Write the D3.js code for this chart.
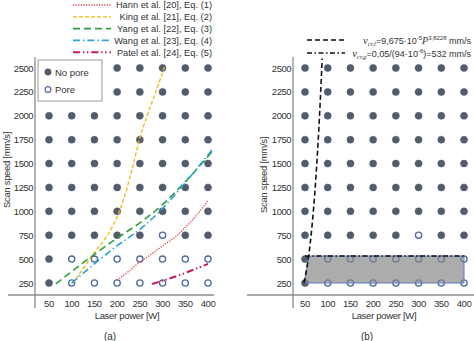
<!DOCTYPE html>
<html>
<head>
<meta charset="utf-8">
<script src="https://cdn.jsdelivr.net/npm/d3@7"></script>
<style>
  body { margin: 0; background: #fff; }
  svg { display: block; font-family: "Liberation Sans", Arial, sans-serif; }
</style>
</head>
<body>
<div id="chart"></div>
<script>
// process window grid
const POWERS = [50, 100, 150, 200, 250, 300, 350, 400];
const SPEEDS = [250, 500, 750, 1000, 1250, 1500, 1750, 2000, 2250, 2500];
// [power, speed] combinations where pores were found
const PORES = [
    [100, 250], [150, 250], [200, 250], [250, 250], [300, 250], [350, 250], [400, 250],
    [100, 500], [150, 500], [200, 500], [250, 500], [300, 500], [350, 500], [400, 500],
    [300, 750]
];

// literature thresholds [power, speed]
const HANN = [[200, 280], [225, 370], [250, 470], [275, 550], [300, 640], [325, 720], [350, 830], [375, 960], [400, 1110]];
const KING = [[102, 240], [125, 400], [150, 570], [180, 760], [205, 1000], [222, 1250], [236, 1500], [249, 1750], [266, 2000], [285, 2250], [305, 2520]];
const YANG = [[65, 240], [100, 370], [150, 550], [200, 720], [250, 880], [300, 1070], [350, 1310], [410, 1630]];
const WANG = [[100, 250], [150, 450], [200, 640], [250, 810], [300, 1030], [350, 1300], [410, 1650]];
const PATEL = [[277, 240], [317, 300], [355, 365], [400, 450]];

const SERIES_NAMES = ["Hann et al. [20], Eq. (1)", "King et al. [21], Eq. (2)", "Yang et al. [22], Eq. (3)", "Wang et al. [23], Eq. (4)", "Patel et al. [24], Eq. (5)"];

// critical speeds (panel b): v_cr,l = 9,675e-5 * P^3,8228 and v_cr,g = 532
const VCRL_MANT = 9.675;
const VCRL_POW10 = -5;
const VCRL_EXP = 3.8228;
const VCRG = 532;

const width = 474, height = 341;
const svg = d3.select("#chart").append("svg")
    .attr("width", width)
    .attr("height", height);

const yScale = d3.scaleLinear().domain([250, 2500]).range([283, 68]);

const styles = [
    { color: "#e5353f", dash: "1.2,1.4", w: 1.3 },
    { color: "#f5b60f", dash: "4,2", w: 1.3 },
    { color: "#2f9e3f", dash: "7,4", w: 1.6 },
    { color: "#27a3d6", dash: "7,3,1.4,3", w: 1.6 },
    { color: "#c2185b", dash: "7,3,1.4,2.5,1.4,3", w: 2 }
];

function drawAxes(g, x, axisX, xLineStart, xLineEnd, cx) {
    g.append("line")
        .attr("x1", axisX).attr("x2", axisX)
        .attr("y1", 57).attr("y2", 308)
        .attr("stroke", "#8c8c8c").attr("stroke-width", 1.3);
    g.append("line")
        .attr("x1", xLineStart).attr("x2", xLineEnd)
        .attr("y1", 295).attr("y2", 295)
        .attr("stroke", "#8c8c8c").attr("stroke-width", 1.3);

    SPEEDS.forEach(s =>
        g.append("text")
            .attr("x", axisX - 2)
            .attr("y", yScale(s) + 3.5)
            .attr("text-anchor", "end")
            .attr("font-size", 9.5)
            .attr("letter-spacing", -0.5)
            .attr("fill", "#333")
            .text(s)
    );
    POWERS.forEach(p =>
        g.append("text")
            .attr("x", x(p))
            .attr("y", 307)
            .attr("text-anchor", "middle")
            .attr("font-size", 9.5)
            .attr("letter-spacing", -0.4)
            .attr("fill", "#333")
            .text(p)
    );

    g.append("text")
        .attr("x", cx)
        .attr("y", 319)
        .attr("text-anchor", "middle")
        .attr("font-size", 9.5)
        .attr("letter-spacing", -0.3)
        .attr("fill", "#333")
        .text("Laser power [W]");
}

function yLabel(g, x, y) {
    g.append("text")
        .attr("transform", "translate(" + x + "," + y + ") rotate(-90)")
        .attr("text-anchor", "middle")
        .attr("font-size", 9.5)
        .attr("letter-spacing", -0.3)
        .attr("fill", "#333")
        .text("Scan speed [mm/s]");
}

function drawPoints(g, x) {
    const isPore = (p, s) => PORES.some(d => d[0] == p && d[1] == s);
    SPEEDS.forEach(s => {
        POWERS.forEach(p => {
            const pore = isPore(p, s);
            g.append("circle")
                .attr("cx", x(p))
                .attr("cy", yScale(s))
                .attr("r", pore ? 3.1 : 3.5)
                .attr("fill", pore ? "#fff" : "#535b6d")
                .attr("stroke", pore ? "#4d6aa5" : "#535b6d")
                .attr("stroke-width", pore ? 1.3 : 0.6);
        });
    });
}

// ---- panel (a) ----
const xA = d3.scaleLinear().domain([50, 400]).range([49, 208]);
const ga = svg.append("g");
drawAxes(ga, xA, 35, 8, 214, 127);
yLabel(ga, 10, 170);
drawPoints(ga, xA);

const lineA = d3.line()
    .x(d => xA(d[0]))
    .y(d => yScale(d[1]))
    .curve(d3.curveMonotoneX);

[HANN, KING, YANG, WANG, PATEL].forEach((data, i) => {
    ga.append("path")
        .datum(data)
        .attr("d", lineA)
        .attr("fill", "none")
        .attr("stroke", styles[i].color)
        .attr("stroke-width", styles[i].w)
        .attr("stroke-dasharray", styles[i].dash);
});

// legend of the literature curves
SERIES_NAMES.forEach((name, i) => {
    const ly = 5 + i * 11.8;
    ga.append("line")
        .attr("x1", 73).attr("x2", 111)
        .attr("y1", ly).attr("y2", ly)
        .attr("stroke", styles[i].color)
        .attr("stroke-width", styles[i].w)
        .attr("stroke-dasharray", styles[i].dash);
    ga.append("text")
        .attr("x", 212)
        .attr("y", ly + 3.3)
        .attr("text-anchor", "end")
        .attr("font-size", 9.3)
        .attr("fill", "#333")
        .text(name);
});

// pore / no pore box
ga.append("rect")
    .attr("x", 38).attr("y", 60)
    .attr("width", 64).attr("height", 41)
    .attr("fill", "#fff")
    .attr("stroke", "#9a9a9a")
    .attr("stroke-width", 1);
ga.append("circle").attr("cx", 48).attr("cy", 72).attr("r", 3.2)
    .attr("fill", "#535b6d").attr("stroke", "#535b6d").attr("stroke-width", 0.6);
ga.append("circle").attr("cx", 48).attr("cy", 89.5).attr("r", 2.9)
    .attr("fill", "#fff").attr("stroke", "#4d6aa5").attr("stroke-width", 1.2);
ga.append("text").attr("x", 55).attr("y", 75.5).attr("font-size", 9.5).attr("fill", "#333").text("No pore");
ga.append("text").attr("x", 55).attr("y", 93).attr("font-size", 9.5).attr("fill", "#333").text("Pore");

ga.append("text")
    .attr("x", 110).attr("y", 340)
    .attr("text-anchor", "middle")
    .attr("font-size", 10)
    .attr("fill", "#333")
    .text("(a)");

// ---- panel (b) ----
const xB = d3.scaleLinear().domain([50, 400]).range([305, 464]);
const gb = svg.append("g");
drawAxes(gb, xB, 293, 247, 474, 384);
yLabel(gb, 267, 175);
drawPoints(gb, xB);

// v_cr,l solved for P at a given speed
const vcrlCoef = VCRL_MANT * Math.pow(10, VCRL_POW10);
const powerAt = v => Math.pow(v / vcrlCoef, 1 / VCRL_EXP);
const curveSpeeds = d3.range(250, 2601, 25);
const curveB = curveSpeeds.map(v => [powerAt(v), v]);

const lineB = d3.line()
    .x(d => xB(d[0]))
    .y(d => yScale(d[1]));

// shaded region between the two critical speeds
const region = curveB.filter(d => d[1] <= VCRG)
    .concat([[powerAt(VCRG), VCRG], [400, VCRG], [400, 250]]);
gb.append("path")
    .datum(region)
    .attr("d", lineB.curve(d3.curveLinearClosed))
    .attr("fill", "#858585")
    .attr("fill-opacity", 0.68)
    .attr("stroke", "#5d7cbf")
    .attr("stroke-width", 1);
lineB.curve(d3.curveLinear);

gb.append("path")
    .datum(curveB)
    .attr("d", lineB)
    .attr("fill", "none")
    .attr("stroke", "#111")
    .attr("stroke-width", 1.6)
    .attr("stroke-dasharray", "5,3");

gb.append("path")
    .datum([[50, VCRG], [400, VCRG]])
    .attr("d", lineB)
    .attr("fill", "none")
    .attr("stroke", "#111")
    .attr("stroke-width", 1.6)
    .attr("stroke-dasharray", "5,2.5,1.5,2.5");

// legend with the two formulas
const legB = [
    { y: 40, dash: "5,3" },
    { y: 53, dash: "5,2.5,1.5,2.5" }
];
legB.forEach(l => {
    gb.append("line")
        .attr("x1", 307).attr("x2", 345)
        .attr("y1", l.y).attr("y2", l.y)
        .attr("stroke", "#111")
        .attr("stroke-width", 1.6)
        .attr("stroke-dasharray", l.dash);
});

const fmt = n => String(n).replace(".", ",");
const t1 = gb.append("text")
    .attr("x", 471).attr("y", 43.5)
    .attr("text-anchor", "end")
    .attr("font-size", 9)
    .attr("fill", "#333");
t1.append("tspan").attr("font-family", "Liberation Serif").attr("font-style", "italic").attr("font-size", 10.5).text("v");
t1.append("tspan").attr("font-family", "Liberation Serif").attr("font-style", "italic").attr("font-size", 6.5).attr("dy", 2).text("cr,l");
t1.append("tspan").attr("dy", -2).text("=" + fmt(VCRL_MANT) + "·10");
t1.append("tspan").attr("font-size", 6).attr("dy", -3.5).text(VCRL_POW10);
t1.append("tspan").attr("font-family", "Liberation Serif").attr("font-style", "italic").attr("font-size", 10).attr("dy", 3.5).text("P");
t1.append("tspan").attr("font-size", 6).attr("dy", -3.5).text(fmt(VCRL_EXP));
t1.append("tspan").attr("dy", 3.5).text(" mm/s");

const t2 = gb.append("text")
    .attr("x", 471).attr("y", 56.5)
    .attr("text-anchor", "end")
    .attr("font-size", 9)
    .attr("fill", "#333");
t2.append("tspan").attr("font-family", "Liberation Serif").attr("font-style", "italic").attr("font-size", 10.5).text("v");
t2.append("tspan").attr("font-family", "Liberation Serif").attr("font-style", "italic").attr("font-size", 6.5).attr("dy", 2).text("cr,g");
t2.append("tspan").attr("dy", -2).text("=0,05/(94·10");
t2.append("tspan").attr("font-size", 6).attr("dy", -3.5).text("-6");
t2.append("tspan").attr("dy", 3.5).text(")=" + VCRG + " mm/s");

gb.append("text")
    .attr("x", 367).attr("y", 340)
    .attr("text-anchor", "middle")
    .attr("font-size", 10)
    .attr("fill", "#333")
    .text("(b)");
</script>
</body>
</html>
